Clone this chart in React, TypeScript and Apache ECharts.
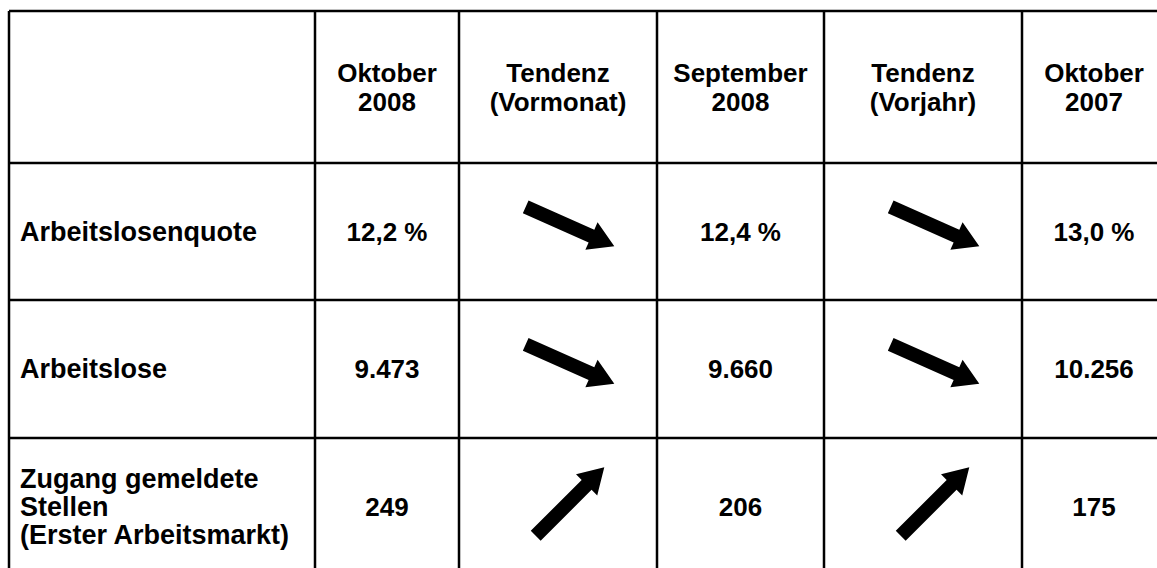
import React, { useEffect, useRef } from "react";
import * as echarts from "echarts";

// ---- data ----
const headers = ["", "Oktober\n2008", "Tendenz\n(Vormonat)", "September\n2008", "Tendenz\n(Vorjahr)", "Oktober\n2007"];
const rowLabels = ["Arbeitslosenquote", "Arbeitslose", "Zugang gemeldete\nStellen\n(Erster Arbeitsmarkt)"];
const oktober2008 = ["12,2 %", "9.473", "249"];
const september2008 = ["12,4 %", "9.660", "206"];
const oktober2007 = ["13,0 %", "10.256", "175"];
const trendVormonat = ["down", "down", "up"];
const trendVorjahr = ["down", "down", "up"];

// ---- layout ----
const colEdges = [9, 315, 459, 657, 824, 1022, 1166];
const rowEdges = [11, 163, 300, 438, 575];
const FONT = 'bold 26px "Liberation Sans", Arial, sans-serif';
const LABEL_FONT = 'bold 27px "Liberation Sans", Arial, sans-serif';

function arrowPoints(cx: number, cy: number, dir: string): number[][] {
  const deg = dir === "down" ? 24 : -45;
  const a = (deg * Math.PI) / 180;
  const c = Math.cos(a), s = Math.sin(a);
  const L = 97, hb = 72, sw = 7, hw = 15;
  const local = [
    [0, -sw], [hb, -sw], [hb, -hw], [L, 0], [hb, hw], [hb, sw], [0, sw],
  ];
  return local.map(([px, py]) => {
    const x = px - L / 2;
    return [cx + x * c - py * s, cy + x * s + py * c];
  });
}

export default function App() {
  const ref = useRef<HTMLDivElement>(null);
  useEffect(() => {
    if (!ref.current) return;
    const chart = echarts.init(ref.current, undefined, { renderer: "svg" });
    const els: any[] = [];
    const top = rowEdges[0], bottom = rowEdges[rowEdges.length - 1];
    const left = colEdges[0], right = colEdges[colEdges.length - 1];
    const lineStyle = { stroke: "#000", lineWidth: 2.5 };
    colEdges.forEach((x) => {
      els.push({ type: "line", shape: { x1: x, y1: top, x2: x, y2: bottom }, style: lineStyle });
    });
    rowEdges.forEach((y) => {
      els.push({ type: "line", shape: { x1: left, y1: y, x2: right, y2: y }, style: lineStyle });
    });
    const colCenter = (i: number) => (colEdges[i] + colEdges[i + 1]) / 2;
    const rowCenter = (i: number) => (rowEdges[i] + rowEdges[i + 1]) / 2;
    const txt = (text: string, x: number, y: number, align: string, font = FONT, lh = 29) => ({
      type: "text",
      x,
      y,
      style: {
        text,
        font,
        fill: "#000",
        align,
        verticalAlign: "middle",
        textAlign: align,
        textVerticalAlign: "middle",
        lineHeight: lh,
      },
    });
    headers.forEach((h, i) => {
      if (h) els.push(txt(h, colCenter(i), rowCenter(0), "center"));
    });
    rowLabels.forEach((lab, r) => {
      const y = rowCenter(r + 1);
      els.push(txt(lab, colEdges[0] + 11, y, "left", LABEL_FONT, 28));
      els.push(txt(oktober2008[r], colCenter(1), y, "center"));
      els.push(txt(september2008[r], colCenter(3), y, "center"));
      els.push(txt(oktober2007[r], colCenter(5), y, "center"));
      els.push({
        type: "polygon",
        shape: { points: arrowPoints(colCenter(2) + 12, y - 5, trendVormonat[r]) },
        style: { fill: "#000" },
      });
      els.push({
        type: "polygon",
        shape: { points: arrowPoints(colCenter(4) + 12, y - 5, trendVorjahr[r]) },
        style: { fill: "#000" },
      });
    });
    chart.setOption({
      animation: false,
      backgroundColor: "#fff",
      graphic: { elements: els },
    });
    return () => chart.dispose();
  }, []);
  return (
    <div
      ref={ref}
      style={{ position: "fixed", left: 0, top: 0, width: 1157, height: 568, background: "#fff" }}
    />
  );
}
